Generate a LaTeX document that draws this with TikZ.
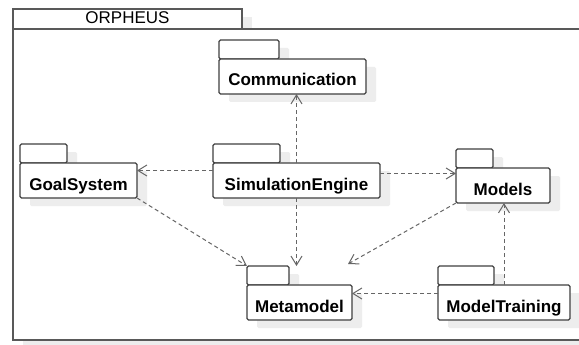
\documentclass[tikz,border=0pt]{standalone}
\usepackage{fontspec}
\setsansfont{Liberation Sans}
\usetikzlibrary{arrows.meta,positioning,shadows}
\colorlet{boxcol}{black!75}
\colorlet{depcol}{black!60}
\colorlet{shadecol}{black!7}
\tikzstyle{pkgshadow}=[drop shadow={shadow xshift=10pt,shadow yshift=-8pt,fill=shadecol,opacity=1}]
\tikzstyle{frame}=[draw=black!65,fill=white,line width=1.6pt]
\tikzstyle{frametab}=[frame,minimum width=229pt,minimum height=20pt,inner sep=0pt,outer sep=0pt,anchor=north west,font=\sffamily\fontsize{17}{17}\selectfont,text height=9pt,text depth=0pt,pkgshadow]
\tikzstyle{pkgtab}=[draw=boxcol,fill=white,line width=1.2pt,rounded corners=1.5pt,minimum height=19pt,inner sep=0pt,outer sep=0pt,anchor=north west,pkgshadow]
\tikzstyle{pkg}=[draw=boxcol,fill=white,line width=1.2pt,rounded corners=1.5pt,minimum height=35pt,inner sep=0pt,outer sep=0pt,font=\sffamily\bfseries\fontsize{17}{17}\selectfont,text height=19pt,text depth=0pt,pkgshadow]
\tikzstyle{dep}=[-{Straight Barb[length=9pt,width=11pt]},depcol,line width=1pt,dash pattern=on 4pt off 3pt]

\begin{document}
\begin{tikzpicture}[x=1pt,y=-1pt]
  \useasboundingbox (0,0) rectangle (579,345);
  % Frame
  \node[frametab] (orphTab) at (13,9) {ORPHEUS};
  \draw[frame,pkgshadow] (13,29) rectangle (600,340);
  % Packages
  \node[pkgtab,minimum width=60pt] (commTab) at (219,40) {};
  \node[pkg,minimum width=147pt,below right=0pt and 0pt of commTab.south west] (comm) {Communication};
  \node[pkgtab,minimum width=47pt] (goalTab) at (20,144) {};
  \node[pkg,minimum width=117pt,below right=0pt and 0pt of goalTab.south west] (goal) {GoalSystem};
  \node[pkgtab,minimum width=67pt] (simengTab) at (213,144) {};
  \node[pkg,minimum width=167pt,below right=0pt and 0pt of simengTab.south west] (simeng) {SimulationEngine};
  \node[pkgtab,minimum width=37pt] (modelsTab) at (456,149) {};
  \node[pkg,minimum width=94pt,below right=0pt and 0pt of modelsTab.south west] (models) {Models};
  \node[pkgtab,minimum width=42pt] (metaTab) at (247,266) {};
  \node[pkg,minimum width=105pt,below right=0pt and 0pt of metaTab.south west] (meta) {Metamodel};
  \node[pkgtab,minimum width=56pt] (trainTab) at (438,266) {};
  \node[pkg,minimum width=132pt,below right=0pt and 0pt of trainTab.south west] (train) {ModelTraining};
  % Dependencies
  \draw[dep] (simeng.north) -- (simeng.north |- comm.south);
  \draw[dep] ([yshift=10pt]simeng.west) -- ([yshift=10pt]simeng.west -| goal.east);
  \draw[dep] ([yshift=7pt]simeng.east) -- ([yshift=7pt]simeng.east -| models.west);
  \draw[dep] (simeng.south) -- (simeng.south |- metaTab.north);
  \draw[dep] (goal.south east) -- (metaTab.north west);
  \draw[dep] (models.south west) -- ([shift={(-4,-21)}]meta.north east);
  \draw[dep] (train.north) -- (train.north |- models.south);
  \draw[dep] ([yshift=9pt]train.west) -- ([yshift=9pt]train.west -| meta.east);
\end{tikzpicture}
\end{document}
